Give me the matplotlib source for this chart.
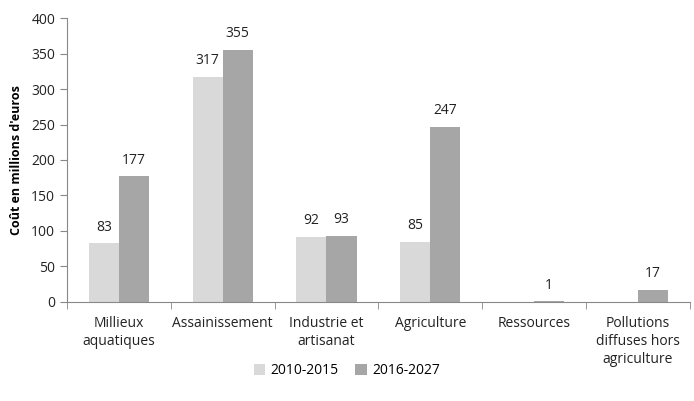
import matplotlib
matplotlib.use("Agg")
import matplotlib.pyplot as plt
import numpy as np

categories = ["Millieux\naquatiques", "Assainissement", "Industrie et\nartisanat",
              "Agriculture", "Ressources", "Pollutions\ndiffuses hors\nagriculture"]
series_names = ["2010-2015", "2016-2027"]
values_2010 = [83, 317, 92, 85, np.nan, np.nan]
values_2016 = [177, 355, 93, 247, 1, 17]
colors = ["#d9d9d9", "#a6a6a6"]

plt.rcParams['font.family'] = ['Open Sans', 'DejaVu Sans']

fig = plt.figure(figsize=(6.94, 4.01), dpi=100)
ax = fig.add_axes([0.0965, 0.247, 0.8975, 0.708])

x = np.arange(len(categories))
w = 0.29
for i, (vals, name, c) in enumerate(zip([values_2010, values_2016], series_names, colors)):
    pos = x + (i - 0.5) * w
    ax.bar(pos, vals, width=w, color=c, label=name)
    for p, v in zip(pos, vals):
        if not np.isnan(v):
            ax.text(p, v + 12, f"{v:g}", ha="center", va="bottom", fontsize=10, color="#222222")

ax.set_xlim(-0.5, len(categories) - 0.5)
ax.set_ylim(0, 400)
ax.set_yticks(range(0, 401, 50))
ax.set_xticks(x)
ax.set_xticklabels(categories, fontsize=10, color="#222222", linespacing=1.3)
ax.tick_params(axis="x", length=0, pad=10)
ax.set_xticks(np.arange(-0.5, len(categories), 1), minor=True)
ax.tick_params(axis="x", which="minor", length=5, color="#888888", direction="out")
ax.tick_params(axis="y", length=5, color="#888888", labelsize=10, labelcolor="#222222")
for s in ["top", "right"]:
    ax.spines[s].set_visible(False)
for s in ["left", "bottom"]:
    ax.spines[s].set_color("#888888")
ax.set_ylabel("Coût en millions d'euros", fontsize=9, fontweight="bold", labelpad=6)

fig.legend(loc="lower center", bbox_to_anchor=(0.5, 0.025), ncol=2, frameon=False,
           fontsize=10, handlelength=0.8, handleheight=0.8, columnspacing=1.2, handletextpad=0.4)

fig.savefig("out.png", dpi=100)
